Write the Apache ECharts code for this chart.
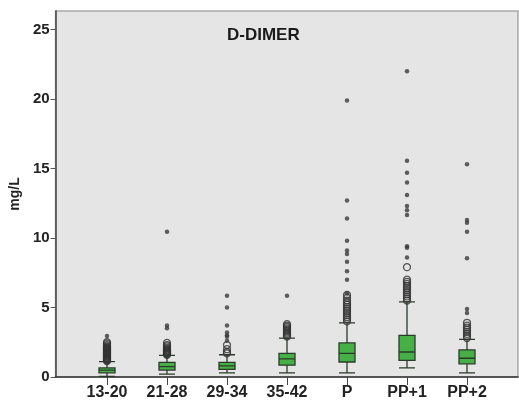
<!DOCTYPE html>
<html>
<head>
<meta charset="utf-8">
<script src="https://cdn.jsdelivr.net/npm/echarts@6/dist/echarts.min.js"></script>
<style>html,body{margin:0;padding:0;background:#fff;}#c{width:519px;height:405px;}</style>
</head>
<body>
<div id="c"></div>
<script>
var categories = ['13-20', '21-28', '29-34', '35-42', 'P', 'PP+1', 'PP+2'];
var yTicks = [0, 5, 10, 15, 20, 25];
// [lower whisker, Q1, median, Q3, upper whisker]
var boxStats = [
  [0.05, 0.3, 0.5, 0.65, 1.1],
  [0.2, 0.5, 0.75, 1.05, 1.55],
  [0.3, 0.55, 0.8, 1.05, 1.6],
  [0.3, 0.85, 1.3, 1.7, 2.8],
  [0.3, 1.08, 1.7, 2.45, 3.9],
  [0.65, 1.2, 1.8, 3.0, 5.4],
  [0.3, 0.95, 1.35, 1.95, 2.7]
];
// open-circle outliers per category
var outl1320 = [1.15, 1.2, 1.25, 1.3, 1.35, 1.4, 1.45, 1.5, 1.55, 1.6, 1.65, 1.7, 1.75, 1.8, 1.85, 1.9, 1.95, 2.0, 2.05, 2.1, 2.15, 2.2, 2.3, 2.4, 2.5];
var outl2128 = [1.6, 1.65, 1.7, 1.75, 1.8, 1.85, 1.9, 1.95, 2.0, 2.1, 2.2, 2.3, 2.45];
var outl2934 = [1.7, 1.8, 2.0, 2.3];
var outl3542 = [2.9, 3.0, 3.1, 3.2, 3.3, 3.4, 3.5, 3.6, 3.7, 3.8];
var outlP = [4.0, 4.15, 4.3, 4.45, 4.6, 4.75, 4.9, 5.05, 5.2, 5.35, 5.5, 5.7, 5.9];
var outlPP1 = [5.5, 5.65, 5.8, 5.95, 6.1, 6.25, 6.4, 6.55, 6.7, 6.85, 7.0, 7.9];
var outlPP2 = [2.8, 2.95, 3.1, 3.25, 3.4, 3.55, 3.7, 3.9];
// filled extreme values per category
var ext1320 = [2.95];
var ext2128 = [3.5, 3.7, 10.45];
var ext2934 = [2.6, 2.9, 3.0, 3.2, 3.7, 5.0, 5.85];
var ext3542 = [5.85];
var extP = [6.0, 7.0, 7.6, 8.3, 8.85, 9.1, 9.8, 11.4, 12.7, 19.9];
var extPP1 = [8.6, 9.3, 9.4, 11.65, 12.0, 12.3, 13.1, 14.0, 14.7, 15.55, 22.0];
var extPP2 = [4.6, 4.9, 8.55, 10.45, 11.1, 11.3, 15.3];

var outliers = [outl1320, outl2128, outl2934, outl3542, outlP, outlPP1, outlPP2];
var extremes = [ext1320, ext2128, ext2934, ext3542, extP, extPP1, extPP2];

function toPoints(groups) {
  var pts = [];
  groups.forEach(function (g, i) {
    g.forEach(function (v) { pts.push([categories[i], v]); });
  });
  return pts;
}

var YMAX = 26.33;
var chart = echarts.init(document.getElementById('c'), null, { renderer: 'canvas' });
var boldFont = { fontFamily: 'Arial, "Liberation Sans", sans-serif', fontWeight: 'bold', color: '#222' };

chart.setOption({
  animation: false,
  backgroundColor: '#fff',
  title: {
    text: 'D-DIMER',
    left: 222, top: 22,
    textStyle: { fontFamily: 'Arial, "Liberation Sans", sans-serif', fontWeight: 'bold', fontSize: 17, color: '#1a1a1a' }
  },
  grid: [
    { left: 54, right: 1, top: 11, bottom: 28, show: true, backgroundColor: '#e5e5e5', borderColor: '#a8a8a8', borderWidth: 1.5 },
    { left: 77, right: 22, top: 11, bottom: 28 }
  ],
  xAxis: [
    { type: 'value', gridIndex: 0, min: 0, max: 1, axisLine: { show: true, onZero: false, lineStyle: { color: '#333', width: 1.5 } },
      axisTick: { show: false }, axisLabel: { show: false }, splitLine: { show: false } },
    { type: 'category', gridIndex: 1, data: categories,
      axisLine: { show: false },
      axisTick: { show: true, alignWithLabel: true, length: 8, lineStyle: { color: '#444', width: 1 } },
      axisLabel: Object.assign({ fontSize: 16, margin: 8 }, boldFont),
      splitLine: { show: false } }
  ],
  yAxis: [
    { type: 'value', gridIndex: 0, min: 0, max: YMAX,
      name: 'mg/L', nameLocation: 'middle', nameGap: 27, nameRotate: 90,
      nameTextStyle: Object.assign({ fontSize: 14 }, boldFont),
      axisLine: { show: true, lineStyle: { color: '#444', width: 1.5 } },
      axisTick: { show: true, length: 5, customValues: yTicks, lineStyle: { color: '#555' } },
      axisLabel: Object.assign({ fontSize: 15, margin: 6, customValues: yTicks }, boldFont),
      splitLine: { show: false } },
    { type: 'value', gridIndex: 1, min: 0, max: YMAX, show: false, splitLine: { show: false } }
  ],
  series: [
    { type: 'boxplot', xAxisIndex: 1, yAxisIndex: 1, data: boxStats, boxWidth: [16, 16],
      itemStyle: { color: '#46b046', borderColor: '#2b3b2b', borderWidth: 1.3 } },
    { type: 'scatter', xAxisIndex: 1, yAxisIndex: 1, data: toPoints(outliers), symbol: 'circle', symbolSize: 7,
      itemStyle: { color: 'rgba(0,0,0,0)', borderColor: '#333', borderWidth: 1.3 } },
    { type: 'scatter', xAxisIndex: 1, yAxisIndex: 1, data: toPoints(extremes), symbol: 'circle', symbolSize: 4.5,
      itemStyle: { color: '#3a3a3a' } }
  ]
});
</script>
</body>
</html>
